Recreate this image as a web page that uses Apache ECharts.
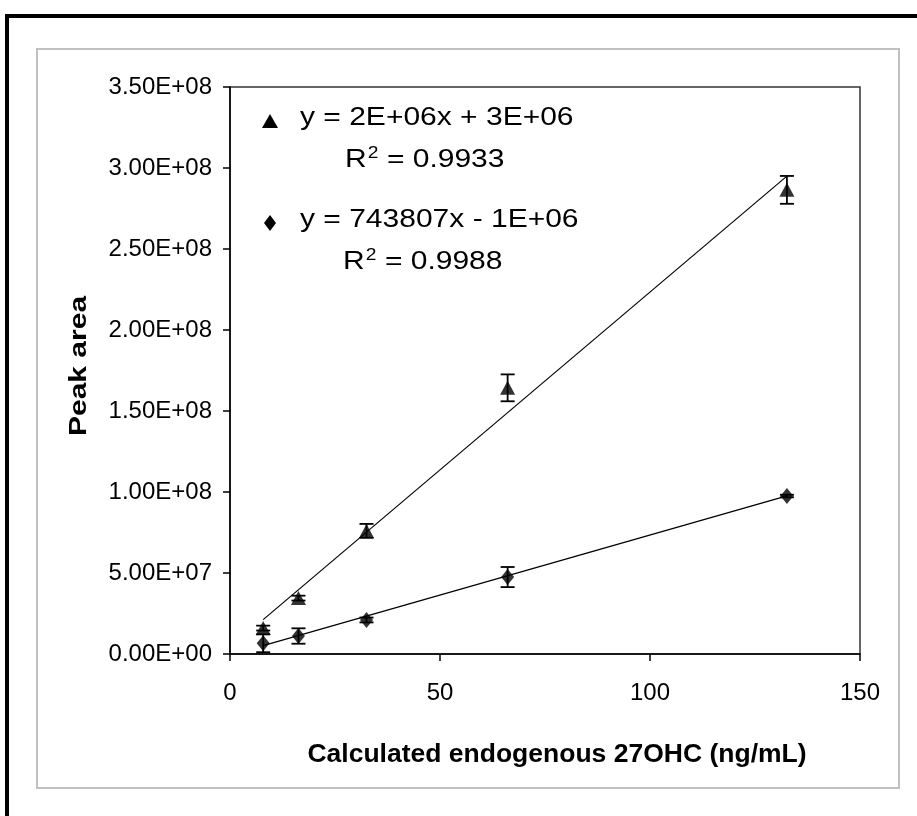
<!DOCTYPE html>
<html>
<head>
<meta charset="utf-8">
<script src="https://cdn.jsdelivr.net/npm/echarts@6/dist/echarts.min.js"></script>
<style>
html,body{margin:0;padding:0;background:#fff;}
#chart{width:917px;height:816px;}
</style>
</head>
<body>
<div id="chart"></div>
<script>
// ---- data ----
const xValues = [7.9, 16.3, 32.5, 66.1, 132.6];           // calculated endogenous 27OHC (ng/mL)
const triangleValues = [1.6e7, 3.45e7, 7.6e7, 1.643e8, 2.865e8];
const triangleErrors = [1.5e6, 1.5e6, 4.3e6, 8.3e6, 8.6e6];
const diamondValues = [6.6e6, 1.11e7, 2.1e7, 4.75e7, 9.75e7];
const diamondErrors = [5.5e6, 4.75e6, 1.5e6, 6.2e6, 0.8e6];
const triangleTrendX = [7.9, 132.6];
const triangleTrendY = [2.12e7, 2.95e8];
const diamondTrendX = [7.9, 132.6];
const diamondTrendY = [5.2e6, 9.76e7];
const yTickLabels = ['0.00E+00','5.00E+07','1.00E+08','1.50E+08','2.00E+08','2.50E+08','3.00E+08','3.50E+08'];
const xTickLabels = ['0','50','100','150'];
const eqTriangle = ['y = 2E+06x + 3E+06', '0.9933'];
const eqDiamond = ['y = 743807x - 1E+06', '0.9988'];
const xAxisTitle = 'Calculated endogenous 27OHC (ng/mL)';
const yAxisTitle = 'Peak area';

const FONT = '"Liberation Sans", Arial, sans-serif';

function pairs(xs, ys) { return xs.map((x, i) => [x, ys[i]]); }
function errData(xs, ys, es) { return xs.map((x, i) => [x, ys[i] - es[i], ys[i] + es[i]]); }

function errorRender(params, api) {
  const x = api.value(0);
  const lo = api.coord([x, api.value(1)]);
  const hi = api.coord([x, api.value(2)]);
  const hw = 7;
  const style = { stroke: '#000', lineWidth: 1.8, fill: null };
  return {
    type: 'group',
    children: [
      { type: 'line', shape: { x1: lo[0], y1: lo[1], x2: hi[0], y2: hi[1] }, style },
      { type: 'line', shape: { x1: lo[0] - hw, y1: lo[1], x2: lo[0] + hw, y2: lo[1] }, style },
      { type: 'line', shape: { x1: hi[0] - hw, y1: hi[1], x2: hi[0] + hw, y2: hi[1] }, style }
    ]
  };
}

const chart = echarts.init(document.getElementById('chart'), null, { renderer: 'canvas' });

const eqRich = {
  t: { fontFamily: FONT, fontSize: 25, color: '#000' },
  sup: { fontFamily: FONT, fontSize: 16, color: '#000', verticalAlign: 'top', padding: [0, 0, 12, 1] }
};
const EQ_SCALE = 1.2;

function eqText(x, y, text) {
  return { type: 'text', z: 100, x: x, y: y, scaleX: EQ_SCALE, scaleY: 1,
    style: { text: text, rich: eqRich, verticalAlign: 'middle', align: 'left' } };
}

chart.setOption({
  backgroundColor: '#fff',
  animation: false,
  grid: { left: 230, right: 57, top: 87, bottom: 162, show: true, borderColor: '#333', borderWidth: 1.5, backgroundColor: 'transparent' },
  xAxis: {
    type: 'value', min: 0, max: 150, interval: 50,
    axisLine: { show: true, lineStyle: { color: '#000', width: 1.5 } },
    axisTick: { show: true, inside: false, length: 7, lineStyle: { color: '#000', width: 1.5 } },
    axisLabel: { fontFamily: FONT, fontSize: 24, color: '#000', margin: 27,
      formatter: (v) => xTickLabels[Math.round(v / 50)] },
    splitLine: { show: false }
  },
  yAxis: {
    type: 'value', min: 0, max: 3.5e8, interval: 5e7,
    axisLine: { show: true, lineStyle: { color: '#000', width: 1.5 } },
    axisTick: { show: true, inside: false, length: 7, lineStyle: { color: '#000', width: 1.5 } },
    axisLabel: { fontFamily: FONT, fontSize: 24, color: '#000', margin: 18,
      formatter: (v) => yTickLabels[Math.round(v / 5e7)] },
    splitLine: { show: false }
  },
  graphic: [
    // outer black frame (top and left edges visible)
    { type: 'rect', z: 100, shape: { x: 7, y: 16, width: 1000, height: 900 }, style: { fill: null, stroke: '#000', lineWidth: 4 } },
    // inner grey chart-area frame
    { type: 'rect', z: 100, shape: { x: 37, y: 49, width: 862, height: 739 }, style: { fill: null, stroke: '#c0c0c0', lineWidth: 2 } },
    // axis titles
    { type: 'text', z: 100, x: 557, y: 755, scaleX: 1.06,
      style: { text: xAxisTitle, font: 'bold 25px ' + FONT, fill: '#000', align: 'center', verticalAlign: 'middle' } },
    { type: 'text', z: 100, x: 79, y: 366, rotation: Math.PI / 2, scaleX: 1.25,
      style: { text: yAxisTitle, font: 'bold 24px ' + FONT, fill: '#000', align: 'center', verticalAlign: 'middle' } },
    // equation legend markers
    { type: 'polygon', z: 100, x: 270, y: 121, shape: { points: [[-8, 7], [8, 7], [0, -7]] }, style: { fill: '#000' } },
    { type: 'polygon', z: 100, x: 270, y: 223, shape: { points: [[0, -8], [6, 0], [0, 8], [-6, 0]] }, style: { fill: '#000' } },
    // equation texts
    eqText(300, 118, '{t|' + eqTriangle[0] + '}'),
    eqText(345, 160, '{t|R}{sup|2}{t| = ' + eqTriangle[1] + '}'),
    eqText(300, 220, '{t|' + eqDiamond[0] + '}'),
    eqText(343, 262, '{t|R}{sup|2}{t| = ' + eqDiamond[1] + '}')
  ],
  series: [
    { name: 'trendTriangle', type: 'line', data: pairs(triangleTrendX, triangleTrendY), symbol: 'none',
      lineStyle: { color: '#000', width: 1.2 }, z: 2, silent: true },
    { name: 'trendDiamond', type: 'line', data: pairs(diamondTrendX, diamondTrendY), symbol: 'none',
      lineStyle: { color: '#000', width: 1.2 }, z: 2, silent: true },
    { name: 'errTriangle', type: 'custom', renderItem: errorRender, data: errData(xValues, triangleValues, triangleErrors), z: 3 },
    { name: 'errDiamond', type: 'custom', renderItem: errorRender, data: errData(xValues, diamondValues, diamondErrors), z: 3 },
    { name: 'Triangle', type: 'scatter', data: pairs(xValues, triangleValues), symbol: 'triangle', symbolSize: [15, 14],
      itemStyle: { color: '#000' }, z: 4 },
    { name: 'Diamond', type: 'scatter', data: pairs(xValues, diamondValues), symbol: 'diamond', symbolSize: [13, 16],
      itemStyle: { color: '#000' }, z: 4 }
  ]
});
</script>
</body>
</html>
